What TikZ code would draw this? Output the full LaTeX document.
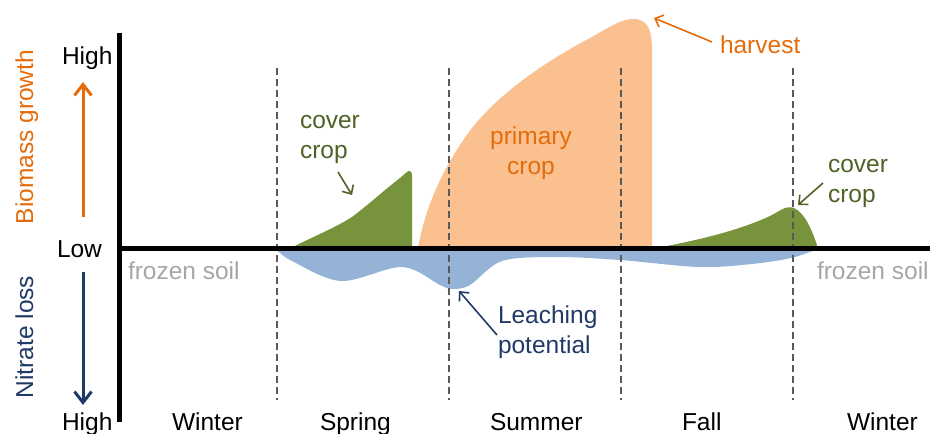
\documentclass[tikz,border=0pt]{standalone}
\usepackage{fontspec}
\setmainfont{Liberation Sans}
\usetikzlibrary{arrows.meta}
\definecolor{orangetxt}{HTML}{E46C0A}
\definecolor{greentxt}{HTML}{4F6228}
\definecolor{greenfill}{HTML}{77933C}
\definecolor{peach}{HTML}{FAC090}
\definecolor{bluefill}{HTML}{95B3D7}
\definecolor{navy}{HTML}{1F3A66}
\definecolor{graytxt}{HTML}{A6A6A6}
\definecolor{dashgray}{HTML}{595959}
\tikzset{
  lbl/.style={inner sep=0pt, outer sep=0pt, anchor=base west},
  ml/.style={lbl, align=left},
  axisline/.style={line width=5pt, black},
  seasonline/.style={dashgray, line width=1.3pt, dash pattern=on 7pt off 4pt},
  annot/.style={line width=1.6pt, -{Straight Barb[length=7pt,width=13pt]}},
  bigarrow/.style={line width=3pt, -{Straight Barb[length=11pt,width=17pt]}},
}
\begin{document}
\begin{tikzpicture}[x=1pt,y=-1pt,font=\fontsize{24.5}{30}\selectfont]
\useasboundingbox (0,0) rectangle (930,434);
% fills
\fill[bluefill] plot[smooth, tension=0.55] coordinates {(277,250) (292,261) (341,281) (402,267) (440,285) (452,289) (470,285) (502,261) (556,257) (620,260) (699,267) (752,264) (791,258) (815,250)} -- cycle;
\fill[greenfill] (291,248) .. controls (310,238) and (335,228) .. (352,217)
  .. controls (368,205) and (382,192) .. (400,178)
  .. controls (408,171) and (412,166) .. (412,178) -- (412,248) -- cycle;
\fill[peach] (418,248) .. controls (424,215) and (436,182) .. (460,145)
  .. controls (485,105) and (530,70) .. (590,38)
  .. controls (610,27) and (622,18) .. (635,19)
  .. controls (648,20) and (652,30) .. (652,50) -- (652,248) -- cycle;
\fill[greenfill] (656,248) .. controls (700,240) and (740,230) .. (770,216)
  .. controls (780,211) and (786,205) .. (794,208)
  .. controls (805,213) and (812,230) .. (818,248) -- cycle;
% season separators
\foreach \xx/\nm in {277/sA,449/sB,621/sC,793/sD}{
  \coordinate (\nm t) at (\xx,68);
  \coordinate (\nm b) at (\xx,400);
  \draw[seasonline] (\nm t) -- (\nm b);
}
% axes
\coordinate (vt) at (119,33);
\coordinate (vb) at (119,422);
\coordinate (hl) at (117,248);
\coordinate (hr) at (930,248);
\draw[axisline] (vt) -- (vb);
\draw[axisline] (hl) -- (hr);
% axis labels
\node[lbl] (hightop) at (62,64) {High};
\node[lbl] (low) at (57,257) {Low};
\node[lbl] (highbot) at (62,430) {High};
\node[inner sep=0pt, anchor=base, rotate=90, text=orangetxt] (biomass) at (33,137) {Biomass growth};
\node[inner sep=0pt, anchor=base, rotate=90, text=navy] (nitrate) at (33,337) {Nitrate loss};
\coordinate (oa0) at (83,217);
\coordinate (oa1) at (83,82);
\draw[bigarrow, orangetxt] (oa0) -- (oa1);
\coordinate (na0) at (83,272);
\coordinate (na1) at (83,405);
\draw[bigarrow, navy] (na0) -- (na1);
% seasons
\node[lbl] (w1) at (172,430) {Winter};
\node[lbl] (sp) at (320,430) {Spring};
\node[lbl] (su) at (490,430) {Summer};
\node[lbl] (fa) at (682,430) {Fall};
\node[lbl] (w2) at (847,430) {Winter};
% frozen soil
\node[lbl, text=graytxt] (fz1) at (128,279) {frozen soil};
\node[lbl, text=graytxt] (fz2) at (817,279) {frozen soil};
% annotations
\node[ml, text=greentxt] (cc1) at (300,158) {cover\\crop};
\coordinate (cc1a) at (338,172);
\coordinate (cc1b) at (352,195);
\draw[annot, greentxt] (cc1a) -- (cc1b);
\node[ml, text=greentxt] (cc2) at (828,202) {cover\\crop};
\coordinate (cc2a) at (823,183);
\coordinate (cc2b) at (798,205);
\draw[annot, greentxt] (cc2a) -- (cc2b);
\node[lbl, align=center, anchor=base, text=orangetxt] (pc) at (531,174) {primary\\crop};
\node[lbl, text=orangetxt] (hv) at (720,53) {harvest};
\coordinate (hva) at (712,42);
\coordinate (hvb) at (654,18);
\draw[annot, orangetxt] (hva) -- (hvb);
\node[ml, text=navy] (lp) at (498,353) {Leaching\\potential};
\coordinate (lpa) at (497,335);
\coordinate (lpb) at (459,291);
\draw[annot, navy] (lpa) -- (lpb);
\end{tikzpicture}
\end{document}
